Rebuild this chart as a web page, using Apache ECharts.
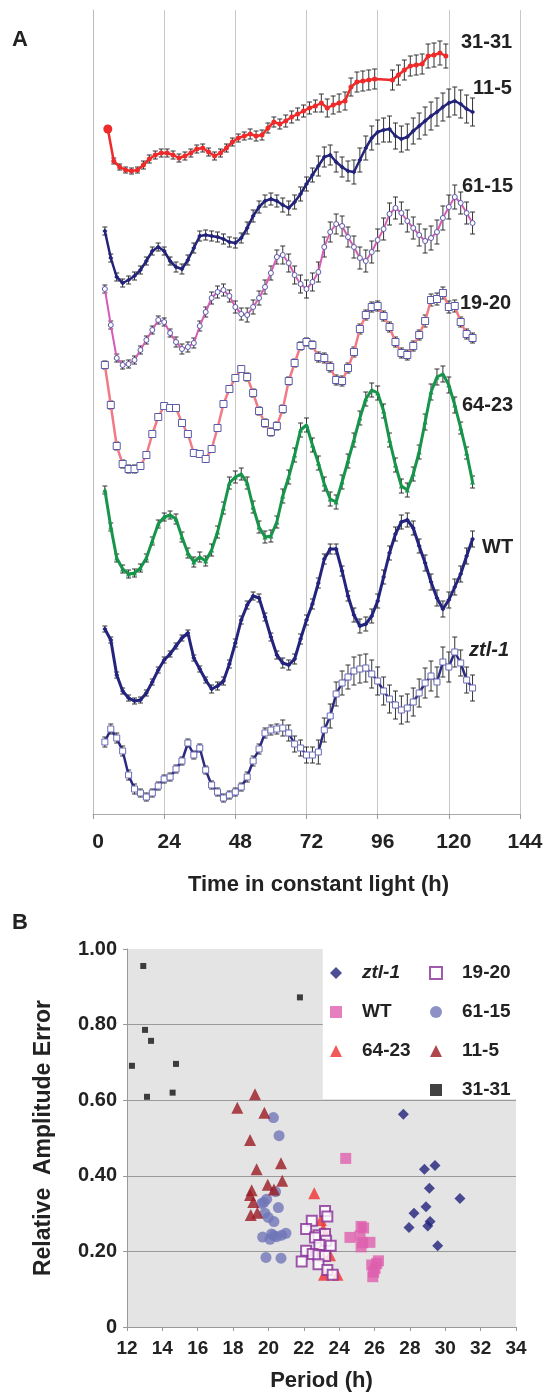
<!DOCTYPE html>
<html>
<head>
<meta charset="utf-8">
<script src="https://cdn.jsdelivr.net/npm/echarts@6/dist/echarts.min.js"></script>
<style>
html, body { margin: 0; padding: 0; background: #fff; }
#chart { width: 551px; height: 1395px; }
</style>
</head>
<body>
<div id="chart"></div>
<script>
// ---- panel A: time courses (offset luminescence traces, arbitrary units) ----
var hours = [4, 6, 8, 10, 12, 14, 16, 18, 20, 22, 24, 26, 28, 30, 32, 34, 36, 38, 40, 42,
    44, 46, 48, 50, 52, 54, 56, 58, 60, 62, 64, 66, 68, 70, 72, 74, 76, 78, 80, 82,
    84, 86, 88, 90, 92, 94, 96, 98, 100, 102, 104, 106, 108, 110, 112, 114, 116, 118, 120, 122,
    124, 126, 128];
var hours3131 = [5, 7, 9, 11, 13, 15, 17, 19, 21, 23, 25, 27, 29, 31, 33, 35, 37, 39, 41, 43,
    45, 47, 49, 51, 53, 55, 57, 59, 61, 63, 65, 67, 69, 71, 73, 75, 77, 79, 81, 83,
    85, 87, 89, 91, 93, 95, 101, 103, 105, 107, 109, 111, 113, 115, 117, 119];

var trace3131 = [685, 653, 647, 644, 643, 644, 649, 655, 659, 661, 661, 659, 656, 658, 661, 665, 666, 662, 658, 661,
    666, 672, 676, 678, 680, 678, 679, 686, 692, 690, 693, 697, 700, 703, 706, 708, 711, 706, 709, 711,
    713, 727, 732, 733, 734, 735, 734, 739, 744, 748, 749, 750, 758, 759, 761, 758];
var trace115 = [583, 556, 537, 531, 534, 538, 544, 553, 563, 567,
    563, 553, 547, 545, 554, 566, 578, 579, 578, 577,
    575, 572, 571, 576, 586, 598, 607, 613, 615, 613,
    609, 606, 612, 620, 630, 639, 648, 657, 659, 652,
    647, 643, 642, 654, 666, 676, 682, 684, 685, 678,
    675, 677, 683, 688, 693, 698, 702, 707, 711, 713,
    710, 705, 702];
var trace6115 = [525, 489, 456, 449, 450, 454, 464, 474, 484, 494,
    492, 481, 472, 465, 467, 471, 488, 502, 516, 522,
    524, 518, 507, 500, 499, 507, 516, 527, 541, 557,
    559, 551, 539, 530, 525, 532, 542, 567, 582, 590,
    588, 577, 567, 556, 553, 562, 574, 585, 600, 606,
    601, 593, 586, 579, 573, 576, 582, 596, 607, 617,
    611, 601, 591];
var trace1920 = [449, 409, 368, 350, 345, 345, 348, 359, 380, 397,
    408, 406, 406, 391, 380, 361, 360, 355, 365, 386,
    410, 425, 436, 445, 437, 421, 403, 391, 382, 388,
    405, 433, 451, 468, 472, 469, 457, 456, 447, 434,
    433, 446, 462, 485, 499, 507, 508, 498, 487, 472,
    461, 459, 468, 479, 493, 514, 515, 521, 507, 508,
    492, 480, 476];
var trace6423 = [324, 287, 256, 245, 240, 241, 246, 256, 273, 290,
    297, 299, 295, 277, 261, 252, 257, 253, 264, 282,
    306, 331, 337, 340, 331, 307, 287, 277, 278, 292,
    318, 337, 359, 384, 389, 369, 351, 330, 315, 312,
    332, 353, 374, 396, 415, 424, 421, 403, 374, 349,
    328, 324, 340, 362, 392, 422, 437, 440, 429, 409,
    386, 361, 332];
var traceWT = [185, 174, 139, 123, 116, 113, 114, 121, 132, 144,
    154, 160, 168, 176, 181, 156, 145, 134, 125, 128,
    133, 150, 171, 194, 209, 218, 216, 197, 177, 159,
    151, 149, 155, 175, 194, 210, 231, 255, 265, 265,
    243, 218, 199, 188, 190, 198, 213, 237, 261, 280,
    292, 294, 286, 268, 251, 232, 216, 205, 214, 227,
    240, 258, 275];
var traceZtl = [72, 85, 76, 63, 39, 25, 21, 17, 21, 28,
    35, 37, 45, 53, 71, 59, 66, 44, 29, 22,
    16, 19, 22, 27, 37, 53, 65, 81, 84, 85,
    86, 81, 70, 66, 59, 59, 62, 84, 98, 120,
    131, 137, 143, 145, 146, 140, 133, 123, 115, 109,
    104, 106, 112, 121, 131, 138, 132, 152, 147, 162,
    151, 134, 126];

// error bar half-heights, one value per 12 h block starting at 4 h
var err3131 = [3, 4, 4, 4, 5, 6, 9, 10, 10, 12, 12];
var err115 = [4, 4, 5, 5, 6, 7, 10, 12, 13, 14, 14];
var err6115 = [4, 4, 5, 6, 7, 9, 10, 11, 11, 12, 11];
var err1920 = [4, 3, 3, 3, 4, 4, 5, 5, 5, 6, 5];
var err6423 = [4, 4, 5, 6, 6, 7, 7, 7, 7, 8, 6];
var errWT = [3, 3, 3, 4, 4, 5, 5, 7, 7, 8, 8];
var errZtl = [5, 4, 4, 4, 5, 8, 12, 14, 14, 15, 13];

var xTicksA = [0, 24, 48, 72, 96, 120, 144];

// ---- panel B: period vs relative amplitude error ----
var ptsZtl = [[27.63, 0.563], [29.42, 0.427], [28.82, 0.417], [29.1, 0.367], [30.83, 0.34], [28.91, 0.318],
    [28.23, 0.301], [29.14, 0.279], [29.01, 0.267], [27.95, 0.263], [29.57, 0.215]];
var ptsWT = [[24.37, 0.446], [25.24, 0.266], [25.38, 0.262], [24.61, 0.237], [25.18, 0.241], [25.33, 0.223],
    [25.74, 0.224], [25.24, 0.212], [26.22, 0.175], [25.84, 0.164], [26.03, 0.155], [26.12, 0.168],
    [25.9, 0.133], [25.95, 0.145]];
var pts6423 = [[22.59, 0.354], [22.97, 0.283], [23.1, 0.26], [23.48, 0.19], [23.14, 0.138], [23.9, 0.138], [22.9, 0.2]];
var pts1920 = [[23.2, 0.307], [23.33, 0.292], [22.45, 0.281], [22.13, 0.259], [22.83, 0.243], [23.2, 0.246],
    [22.63, 0.237], [23.26, 0.228], [22.88, 0.217], [23.52, 0.215], [22.13, 0.202], [22.5, 0.193],
    [22.83, 0.19], [23.2, 0.188], [21.88, 0.173], [22.83, 0.166], [23.33, 0.151], [23.63, 0.138]];
var pts6115 = [[20.28, 0.554], [20.6, 0.506], [20.4, 0.358], [19.9, 0.338], [19.62, 0.327], [19.75, 0.33],
    [20.56, 0.316], [19.8, 0.301], [19.99, 0.29], [20.31, 0.279], [19.67, 0.238], [20.18, 0.246],
    [20.47, 0.239], [20.09, 0.232], [20.3, 0.242], [20.75, 0.243], [20.99, 0.248], [19.86, 0.184], [20.71, 0.182]];
var pts115 = [[19.24, 0.616], [18.24, 0.58], [19.77, 0.567], [18.96, 0.495], [20.71, 0.433], [19.33, 0.417],
    [20.78, 0.387], [19.96, 0.376], [20.31, 0.364], [19.05, 0.362], [18.96, 0.349], [19.14, 0.331],
    [19.0, 0.296], [19.37, 0.302]];
var pts3131 = [[12.92, 0.955], [13.02, 0.786], [13.36, 0.757], [12.28, 0.691], [14.77, 0.696], [13.13, 0.609],
    [14.58, 0.62], [21.78, 0.872]];

var FONT = '"Liberation Sans", Arial, sans-serif';

function pairs(xs, ys) {
    return xs.map(function (x, i) { return [x, ys[i]]; });
}
function errAt(arr, t) {
    var k = Math.floor((t - 4) / 12);
    return arr[Math.max(0, Math.min(arr.length - 1, k))];
}
function errData(xs, ys, errs) {
    return xs.map(function (x, i) { return [x, ys[i], errAt(errs, x)]; });
}
function renderErr(params, api) {
    var t = api.value(0), v = api.value(1), e = api.value(2);
    var a = api.coord([t, v + e]);
    var b = api.coord([t, v - e]);
    var c = 2.5;
    var st = { stroke: '#333', lineWidth: 1 };
    return {
        type: 'group',
        children: [
            { type: 'line', shape: { x1: a[0], y1: a[1], x2: b[0], y2: b[1] }, style: st },
            { type: 'line', shape: { x1: a[0] - c, y1: a[1], x2: a[0] + c, y2: a[1] }, style: st },
            { type: 'line', shape: { x1: b[0] - c, y1: b[1], x2: b[0] + c, y2: b[1] }, style: st }
        ]
    };
}
function errSeries(xs, ys, errs) {
    return {
        type: 'custom', xAxisIndex: 0, yAxisIndex: 0, z: 1, silent: true,
        renderItem: renderErr, encode: { x: 0, y: 1 },
        data: errData(xs, ys, errs)
    };
}
function traceSeries(name, xs, ys, o) {
    return {
        name: name, type: 'line', xAxisIndex: 0, yAxisIndex: 0, z: 3,
        data: pairs(xs, ys), showAllSymbol: true,
        symbol: o.symbol, symbolSize: o.size,
        lineStyle: { color: o.line, width: o.width },
        itemStyle: { color: o.fill, borderColor: o.border, borderWidth: o.bw }
    };
}

var chart = echarts.init(document.getElementById('chart'));

var data3131 = pairs(hours3131, trace3131);
data3131[0] = { value: data3131[0], symbolSize: 9 };

var labelA = function (text, x, y, italic) {
    return {
        type: 'text', x: x, y: y,
        style: {
            text: text, fill: '#222', align: 'left', verticalAlign: 'middle',
            font: (italic ? 'italic ' : '') + 'bold 20px ' + FONT
        }
    };
};

var legendText = {
    fontFamily: FONT, fontWeight: 'bold', fontSize: 19, color: '#222',
    padding: [0, 0, 0, 15], lineHeight: 20,
    rich: { i: { fontFamily: FONT, fontWeight: 'bold', fontStyle: 'italic', fontSize: 19, color: '#222' } }
};
var legendFmt = function (n) { return n === 'ztl-1' ? '{i|ztl-1}' : n; };

var option = {
    animation: false,
    backgroundColor: '#fff',
    grid: [
        { left: 93, right: 31, top: 10, bottom: 581 },
        { left: 127, right: 35, top: 949, bottom: 68, show: true, backgroundColor: '#e4e4e4', borderWidth: 0 }
    ],
    xAxis: [
        {
            gridIndex: 0, type: 'value', min: 0, max: 144, interval: 24,
            name: 'Time in constant light (h)', nameLocation: 'middle', nameGap: 60,
            nameTextStyle: { fontFamily: FONT, fontWeight: 'bold', fontSize: 22, color: '#222', padding: [0, 0, 0, 24] },
            axisLine: { lineStyle: { color: '#aaa', width: 1 } },
            axisTick: { show: true, length: 5, lineStyle: { color: '#999' } },
            axisLabel: {
                fontFamily: FONT, fontWeight: 'bold', fontSize: 21, color: '#222', margin: 18,
                padding: [0, 0, 0, 10],
                formatter: function (v) { return xTicksA.indexOf(v) >= 0 ? String(v) : ''; }
            },
            splitLine: { show: true, showMinLine: false, lineStyle: { color: '#c8c8c8', width: 1 } }
        },
        {
            gridIndex: 1, type: 'value', min: 12, max: 34, interval: 2,
            name: 'Period (h)', nameLocation: 'middle', nameGap: 43,
            nameTextStyle: { fontFamily: FONT, fontWeight: 'bold', fontSize: 22, color: '#222' },
            axisLine: { lineStyle: { color: '#999', width: 1 } },
            axisTick: { show: true, length: 4, lineStyle: { color: '#999' } },
            axisLabel: { fontFamily: FONT, fontWeight: 'bold', fontSize: 19, color: '#222', margin: 12 },
            splitLine: { show: false }
        }
    ],
    yAxis: [
        {
            gridIndex: 0, type: 'value', min: 0, max: 804,
            axisLine: { show: true, lineStyle: { color: '#bbb', width: 1 } },
            axisTick: { show: false }, axisLabel: { show: false }, splitLine: { show: false }
        },
        {
            gridIndex: 1, type: 'value', min: 0, max: 1, interval: 0.2,
            name: 'Relative  Amplitude Error', nameLocation: 'middle', nameGap: 72, nameRotate: 90,
            nameTextStyle: { fontFamily: FONT, fontWeight: 'bold', fontSize: 23, color: '#222' },
            axisLine: { show: true, lineStyle: { color: '#999', width: 1 } },
            axisTick: { show: true, length: 4, lineStyle: { color: '#999' } },
            axisLabel: {
                fontFamily: FONT, fontWeight: 'bold', fontSize: 20, color: '#222', margin: 10,
                formatter: function (v) { return v === 0 ? '0' : v.toFixed(2); }
            },
            splitLine: { show: true, showMinLine: false, showMaxLine: false, lineStyle: { color: '#999', width: 1 } }
        }
    ],
    legend: [
        {
            left: 325, top: 958, orient: 'vertical', itemWidth: 12, itemHeight: 12, itemGap: 19,
            selectedMode: false, data: ['ztl-1', 'WT', '64-23'],
            textStyle: legendText, formatter: legendFmt
        },
        {
            left: 424, top: 958, orient: 'vertical', itemWidth: 12, itemHeight: 12, itemGap: 19,
            selectedMode: false, data: ['19-20', '61-15', '11-5', '31-31'],
            textStyle: legendText, formatter: legendFmt
        }
    ],
    graphic: [
        { type: 'text', x: 12, y: 40, style: { text: 'A', fill: '#222', verticalAlign: 'middle', font: 'bold 22px ' + FONT } },
        { type: 'text', x: 12, y: 923, style: { text: 'B', fill: '#222', verticalAlign: 'middle', font: 'bold 22px ' + FONT } },
        labelA('31-31', 461, 42),
        labelA('11-5', 473, 88),
        labelA('61-15', 462, 186),
        labelA('19-20', 460, 303),
        labelA('64-23', 462, 405),
        labelA('WT', 482, 547),
        labelA('ztl-1', 469, 650, true)
    ],
    series: [
        errSeries(hours3131, trace3131, err3131),
        errSeries(hours, trace115, err115),
        errSeries(hours, trace6115, err6115),
        errSeries(hours, trace1920, err1920),
        errSeries(hours, trace6423, err6423),
        errSeries(hours, traceWT, errWT),
        errSeries(hours, traceZtl, errZtl),
        {
            name: 'trace 31-31', type: 'line', xAxisIndex: 0, yAxisIndex: 0, z: 3,
            data: data3131, showAllSymbol: true, symbol: 'circle', symbolSize: 5,
            lineStyle: { color: '#ee2a2a', width: 2.5 }, itemStyle: { color: '#ee2a2a' }
        },
        traceSeries('trace 11-5', hours, trace115, { symbol: 'diamond', size: 5, line: '#23237a', width: 2.5, fill: '#23237a' }),
        traceSeries('trace 61-15', hours, trace6115, { symbol: 'circle', size: 5, line: '#d65cb8', width: 2, fill: '#fff', border: '#5a5aa8', bw: 1 }),
        traceSeries('trace 19-20', hours, trace1920, { symbol: 'rect', size: 7, line: '#f27a84', width: 2.5, fill: '#fff', border: '#5a5aa8', bw: 1 }),
        traceSeries('trace 64-23', hours, trace6423, { symbol: 'triangle', size: 5, line: '#17954a', width: 3, fill: '#17954a' }),
        traceSeries('trace WT', hours, traceWT, { symbol: 'diamond', size: 5, line: '#24247e', width: 3, fill: '#24247e' }),
        traceSeries('trace ztl-1', hours, traceZtl, { symbol: 'rect', size: 6, line: '#2a2a80', width: 2.5, fill: '#fff', border: '#6a6ab8', bw: 1 }),

        {
            name: 'ztl-1', type: 'scatter', xAxisIndex: 1, yAxisIndex: 1, data: ptsZtl,
            symbol: 'diamond', symbolSize: 11, itemStyle: { color: '#20207a' },
            markArea: {
                silent: true, itemStyle: { color: '#fff', opacity: 1 },
                data: [[{ coord: [23.07, 0.603] }, { coord: [34, 1] }]]
            }
        },
        { name: 'WT', type: 'scatter', xAxisIndex: 1, yAxisIndex: 1, data: ptsWT, symbol: 'rect', symbolSize: 11, itemStyle: { color: '#df5fae' } },
        { name: '64-23', type: 'scatter', xAxisIndex: 1, yAxisIndex: 1, data: pts6423, symbol: 'triangle', symbolSize: 12, itemStyle: { color: '#f03030' } },
        { name: '19-20', type: 'scatter', xAxisIndex: 1, yAxisIndex: 1, data: pts1920, symbol: 'rect', symbolSize: 10, itemStyle: { color: '#fff', borderColor: '#8a2f9a', borderWidth: 2 } },
        { name: '61-15', type: 'scatter', xAxisIndex: 1, yAxisIndex: 1, data: pts6115, symbol: 'circle', symbolSize: 11, itemStyle: { color: '#7076b8' } },
        { name: '11-5', type: 'scatter', xAxisIndex: 1, yAxisIndex: 1, data: pts115, symbol: 'triangle', symbolSize: 12, itemStyle: { color: '#9b1a22' } },
        { name: '31-31', type: 'scatter', xAxisIndex: 1, yAxisIndex: 1, data: pts3131, symbol: 'rect', symbolSize: 6, itemStyle: { color: '#111' } }
    ]
};

chart.setOption(option);
</script>
</body>
</html>
